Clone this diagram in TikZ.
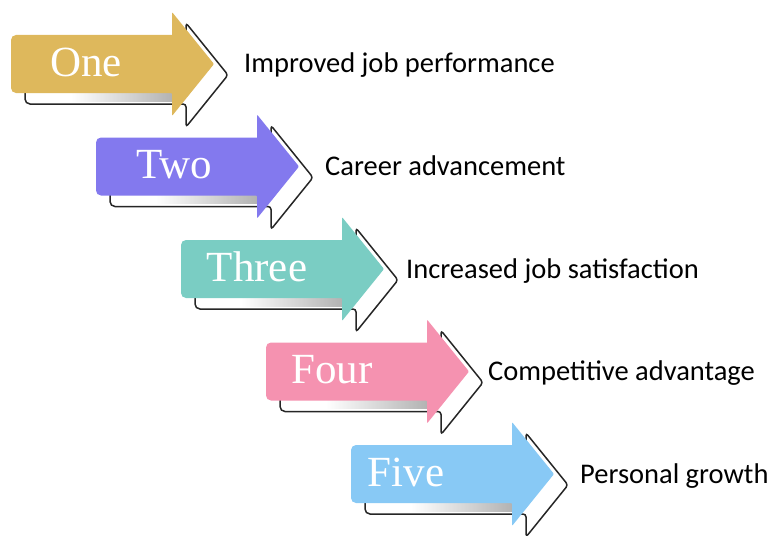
\documentclass[tikz,border=0pt]{standalone}
\usepackage{fontspec}
\setmainfont{Liberation Serif}
\newfontfamily\labelfont{Carlito}
\definecolor{oneclr}{RGB}{222,184,92}
\definecolor{twoclr}{RGB}{131,121,238}
\definecolor{threeclr}{RGB}{122,205,195}
\definecolor{fourclr}{RGB}{245,146,176}
\definecolor{fiveclr}{RGB}{136,201,245}
\tikzset{%
  numtext/.style   = {font=\fontsize{43}{43}\selectfont, text=white,%
                      inner sep=0pt, anchor=base},%
  steplabel/.style = {font=\labelfont\fontsize{28.5}{30}\selectfont,%
                      inner sep=0pt, anchor=base west},%
  backarrow/.style = {draw=black!85, line width=1.5pt, fill=white,%
                      rounded corners=3pt}%
}
% arrow outline, shaft from x=0 to 161, centred on y=0
\newcommand{\arrowpath}{(161,-29) -- (161,-52) -- (203,0) -- (161,52) -- (161,29)
  [rounded corners=5pt] -- (0,29) -- (0,-29) [sharp corners] -- cycle}

\begin{document}
\begin{tikzpicture}[x=1pt,y=-1pt]
\useasboundingbox (0,0) rectangle (773,535);
\foreach \name/\clr/\word/\tx/\lx/\txt [count=\i from 0] in {%
    one/oneclr/One/75/244/Improved job performance,%
    two/twoclr/Two/78/325/Career advancement,%
    three/threeclr/Three/76/406/Increased job satisfaction,%
    four/fourclr/Four/66/488/Competitive advantage,%
    five/fiveclr/Five/55/580/Personal growth}{
  \begin{scope}[shift={(11+85*\i,64+102.5*\i)}]
    % white outlined copy behind
    \begin{scope}[shift={(14,11)}]
      \path[backarrow] \arrowpath;
    \end{scope}
    \shade[left color=white, right color=black!30] (60,29) rectangle (161,37);
    % coloured arrow
    \fill[\clr, rounded corners=1pt] \arrowpath;
    \node[numtext] (\name num) at (\tx,12) {\word};
  \end{scope}
  \node[steplabel] (\name label) at (\lx,73+102.5*\i) {\txt};
}
\end{tikzpicture}
\end{document}
